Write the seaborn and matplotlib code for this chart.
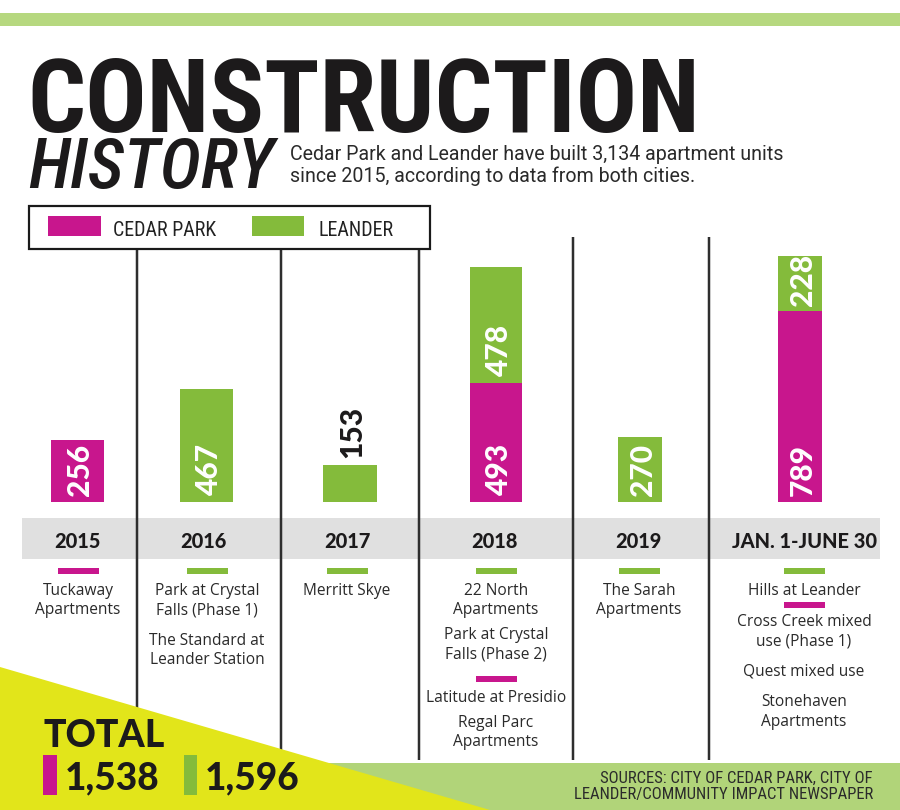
import numpy as np
import pandas as pd
import matplotlib
matplotlib.use("Agg")
import matplotlib.pyplot as plt
import seaborn as sns
from matplotlib import font_manager as fm
from matplotlib.patches import Rectangle, Polygon

# ---------------- data ----------------
periods = ["2015", "2016", "2017", "2018", "2019", "JAN. 1-JUNE 30"]
cedar_park = [256, 0, 0, 493, 0, 789]
leander = [0, 467, 153, 478, 270, 228]
series_names = ["CEDAR PARK", "LEANDER"]
projects = [
    [("cp", "Tuckaway\nApartments")],
    [("le", "Park at Crystal\nFalls (Phase 1)"), ("le", "The Standard at\nLeander Station")],
    [("le", "Merritt Skye")],
    [("le", "22 North\nApartments"), ("le", "Park at Crystal\nFalls (Phase 2)"),
     ("cp", "Latitude at Presidio"), ("cp", "Regal Parc\nApartments")],
    [("le", "The Sarah\nApartments")],
    [("le", "Hills at Leander"), ("cp", "Cross Creek mixed\nuse (Phase 1)"),
     ("cp", "Quest mixed use"), ("cp", "Stonehaven\nApartments")],
]
title_main = "CONSTRUCTION"
title_sub = "HISTORY"
subtitle = ("Cedar Park and Leander have built 3,134 apartment units\n"
            "since 2015, according to data from both cities.")
total_label = "TOTAL"
sources = "SOURCES: CITY OF CEDAR PARK, CITY OF\nLEANDER/COMMUNITY IMPACT NEWSPAPER"

# ---------------- style ----------------
PINK = "#c8168d"
GREEN = "#84bb3b"
TOPBAR = "#b6d87f"
BAND = "#b1d479"
YELLOW = "#e2e51a"
GRAY = "#e0e0e0"
DARK = "#1c1a1b"
TXT = "#2a2a2a"
CITY_COLOR = {"cp": PINK, "le": GREEN}

sns.set_style("white")


def has_font(name):
    try:
        fm.findfont(fm.FontProperties(family=name), fallback_to_default=False)
        return True
    except Exception:
        return False


def pick(cands):
    for c in cands:
        if has_font(c):
            return c
    return "DejaVu Sans"


NARROW = pick(["Liberation Sans Narrow", "Roboto Condensed", "DejaVu Sans"])
HEAVY = pick(["Lato", "Open Sans", "DejaVu Sans"])
BODY = pick(["Open Sans", "Noto Sans", "DejaVu Sans"])
SUB = pick(["Roboto", "Noto Sans", "DejaVu Sans"])
plt.rcParams["font.family"] = [BODY, "DejaVu Sans"]

PX = 0.72  # points per pixel at dpi 100

fig = plt.figure(figsize=(9, 8.1), dpi=100)
bg = fig.add_axes([0, 0, 1, 1])
bg.set_xlim(0, 900)
bg.set_ylim(810, 0)
bg.axis("off")

# top rule
bg.add_patch(Rectangle((0, 13), 900, 13, color=TOPBAR, lw=0, zorder=1))

# titles
bg.text(27, 132, title_main, family=NARROW, weight="bold", size=102 * PX,
        color=DARK, va="baseline", ha="left", zorder=5)
bg.text(28, 188, title_sub, family=NARROW, style="italic", weight="medium",
        size=70 * PX, color=DARK, va="baseline", ha="left", zorder=5)
for i, line in enumerate(subtitle.split("\n")):
    bg.text(290, 160 + 22 * i, line, family=SUB, size=19.6 * PX, color=TXT,
            va="baseline", ha="left", zorder=5)

# gray period band
bg.add_patch(Rectangle((22, 518), 858, 41, color=GRAY, lw=0, zorder=1))

# dividers
for x in [137, 281, 419]:
    bg.plot([x, x], [249, 760], color="#2e2e2e", lw=2.5 * PX, zorder=2,
            solid_capstyle="butt")
for x in [573, 709]:
    bg.plot([x, x], [237, 760], color="#2e2e2e", lw=2.5 * PX, zorder=2,
            solid_capstyle="butt")

# legend box
bg.add_patch(Rectangle((29, 206), 401, 43, facecolor="white", edgecolor="#1a1a1a",
                       lw=2.2 * PX, zorder=3))
bg.add_patch(Rectangle((48, 216), 53, 20, color=PINK, lw=0, zorder=4))
bg.add_patch(Rectangle((252, 216), 52, 20, color=GREEN, lw=0, zorder=4))
bg.text(113, 236, series_names[0], family=NARROW, size=20 * PX, color="#222222",
        va="baseline", ha="left", zorder=5)
bg.text(319, 236, series_names[1], family=NARROW, size=20 * PX, color="#222222",
        va="baseline", ha="left", zorder=5)

# bottom band and yellow wedge
bg.add_patch(Rectangle((0, 763), 900, 47, color=BAND, lw=0, zorder=3))
bg.add_patch(Polygon([(0, 667), (490, 810), (0, 810)], closed=True,
                     color=YELLOW, lw=0, zorder=4))

# period labels, markers and project names
col_x = [78, 207, 347, 496, 639, 804]
year_x = [77.5, 203, 347, 494.5, 638, 805]
marker_y = [[571], [571], [571], [571, 679], [571], [571, 605]]
text_y = [[589], [589, 639], [589], [589, 633, 696, 721], [589], [589, 620, 669, 700]]
LINE = 19.5
for i, per in enumerate(periods):
    bg.text(year_x[i], 548, per, family=HEAVY, weight="black", size=20 * PX,
            color=DARK, ha="center", va="baseline", zorder=5)
    prev = None
    mk = 0
    for j, (city, name) in enumerate(projects[i]):
        if city != prev:
            bg.add_patch(Rectangle((col_x[i] - 20.5, marker_y[i][mk] - 3), 41, 6,
                                   color=CITY_COLOR[city], lw=0, zorder=5))
            mk += 1
            prev = city
        for k, line in enumerate(name.split("\n")):
            bg.text(col_x[i], text_y[i][j] + 6 + LINE * k, line, family=BODY,
                    size=15.5 * PX, color=TXT, ha="center", va="baseline", zorder=5)

# totals
tot_cp = f"{sum(cedar_park):,}"
tot_le = f"{sum(leander):,}"
bg.text(43, 747, total_label, family=HEAVY, weight="black", size=37.5 * PX,
        color=DARK, ha="left", va="baseline", zorder=6)
bg.add_patch(Rectangle((43, 755), 14, 40, color=PINK, lw=0, zorder=6))
bg.add_patch(Rectangle((184, 755), 13, 40, color=GREEN, lw=0, zorder=6))
bg.text(65, 789, tot_cp, family=HEAVY, weight="black", size=37 * PX,
        color=DARK, ha="left", va="baseline", zorder=6)
bg.text(205, 789, tot_le, family=HEAVY, weight="black", size=37 * PX,
        color=DARK, ha="left", va="baseline", zorder=6)

# sources
for k, line in enumerate(sources.split("\n")):
    bg.text(873, 783 + 16 * k, line, family=NARROW, size=16.6 * PX, color="#2b2b2b",
            ha="right", va="baseline", zorder=6)

# ---------------- bars (one small axes per period) ----------------
bar_left = [51, 180, 323, 470, 618, 778]
bar_w = [53, 53, 54, 52, 44, 44]
BASE = 502
TOPPX = 240
SCALE = 0.242  # px per unit
ymax = (BASE - TOPPX) / SCALE

for i, per in enumerate(periods):
    ax = fig.add_axes([bar_left[i] / 900, (810 - BASE) / 810,
                       bar_w[i] / 900, (BASE - TOPPX) / 810])
    df = pd.DataFrame({"period": [per], "cedar": [cedar_park[i]],
                       "total": [cedar_park[i] + leander[i]]})
    sns.barplot(data=df, x="period", y="total", color=GREEN, saturation=1,
                width=1, linewidth=0, ax=ax)
    sns.barplot(data=df, x="period", y="cedar", color=PINK, saturation=1,
                width=1, linewidth=0, ax=ax)
    ax.set_xlim(-0.5, 0.5)
    ax.set_ylim(0, ymax)
    ax.axis("off")
    segs = [(0, cedar_park[i]), (cedar_park[i], leander[i])]
    for bottom, val in segs:
        if val <= 0:
            continue
        inside = val * SCALE > 50
        if inside:
            ax.annotate(str(val), xy=(0, bottom), xytext=(2, 4),
                        textcoords="offset points", rotation=90, ha="center",
                        va="bottom", color="white", family=HEAVY, weight="black",
                        size=30 * PX, annotation_clip=False)
        else:
            ax.annotate(str(val), xy=(0, bottom + val), xytext=(2, 5),
                        textcoords="offset points", rotation=90, ha="center",
                        va="bottom", color=DARK, family=HEAVY, weight="black",
                        size=30 * PX, annotation_clip=False)

fig.savefig("out.png", dpi=100, facecolor="white")
